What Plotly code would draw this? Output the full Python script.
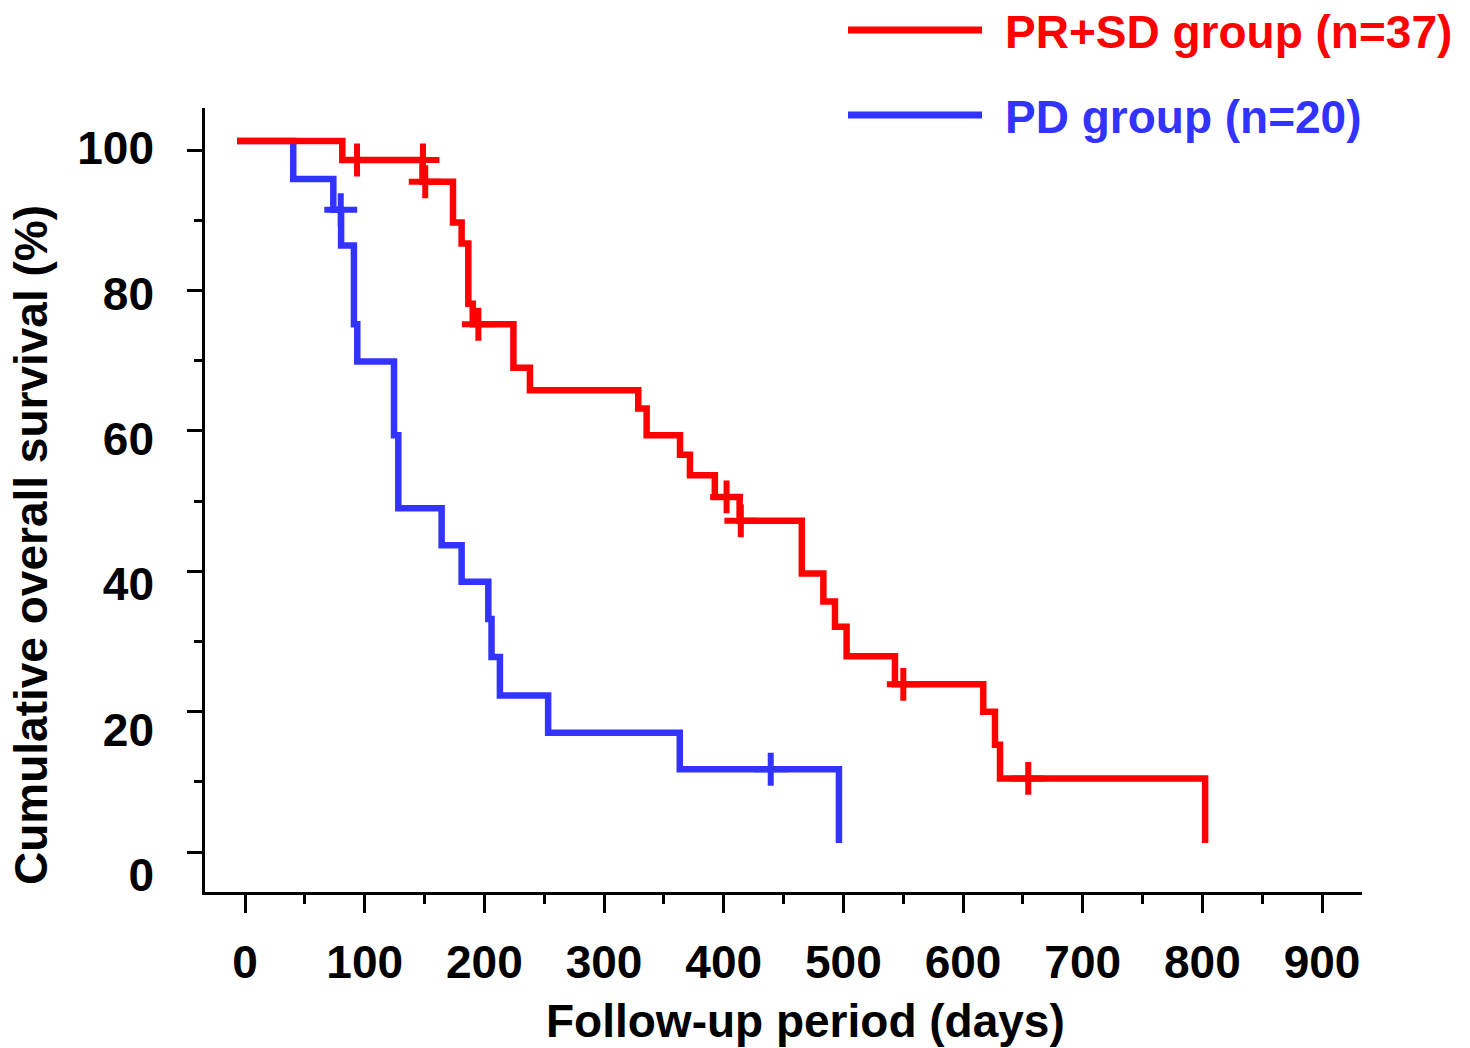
import plotly.graph_objects as go

# ---------------- data ----------------
X_TICKS = [0, 100, 200, 300, 400, 500, 600, 700, 800, 900]
X_TICK_LABELS = [str(v) for v in X_TICKS]
Y_TICKS = [0, 20, 40, 60, 80, 100]
Y_TICK_LABELS = [str(v) for v in Y_TICKS]

PRSD_NAME = "PR+SD group (n=37)"
PRSD_DAYS = [0, 88, 155, 180.5, 187.7, 193.3, 197, 231, 244.8, 335.3, 342.3, 370.2,
             378.5, 399.3, 420, 472, 490, 499.7, 509.4, 549.8, 623.6, 633.4, 637.6, 809]
PRSD_SURV = [100, 97.3, 94.2, 88.4, 85.4, 76.8, 73.9, 67.7, 64.5, 61.9, 58.1, 55.3,
             52.4, 49.3, 45.9, 38.4, 34.4, 30.8, 26.6, 22.6, 18.7, 14.0, 9.2, 0]
PRSD_CENS_DAYS = [100.3, 155.4, 157.3, 201.7, 409.1, 421, 556.8, 661.2]
PRSD_CENS_SURV = [97.3, 97.3, 94.2, 73.9, 49.3, 45.9, 22.6, 9.2]

PD_NAME = "PD group (n=20)"
PD_DAYS = [0, 47, 80.5, 87, 97.7, 100.5, 131.2, 134.8, 171, 187.7, 210, 212.7,
           219.7, 260, 370, 503]
PD_SURV = [100, 94.6, 90.2, 85.1, 73.9, 68.6, 58.1, 47.7, 42.4, 37.2, 31.9, 26.5,
           21.0, 15.7, 10.5, 0]
PD_CENS_DAYS = [86.7, 446]
PD_CENS_SURV = [90.2, 10.5]

RED = "#FF0000"
BLUE = "#3333FF"

# ---------------- layout geometry (page pixels) ----------------
OFF = 8                      # default body margin of the html page
W, H = 1470 - OFF, 1048 - OFF
L, R, T, B = 205, 1362, 108, 892
PW, PH = R - L, B - T
FONT = "Liberation Sans, Arial, sans-serif"


def px(xp):
    return (xp - L) / PW


def py(yp):
    return (B - yp) / PH


X_SCALE = 1.1967            # px per day
X0 = -(237 - L) / X_SCALE
X1 = X0 + PW / X_SCALE
X_TICK_SHIFT = 6.7          # tick layer offset (days)

Y_SCALE = 7.02              # px per percent
Y0 = -(B - 843) / Y_SCALE
Y1 = Y0 + PH / Y_SCALE
Y_TICK_SHIFT = -1.3

Y2_SCALE = 7.27
Y2_0 = -(B - 875) / Y2_SCALE
Y2_1 = Y2_0 + PH / Y2_SCALE

fig = go.Figure()

fig.add_trace(go.Scatter(x=PD_DAYS, y=PD_SURV, mode="lines", name=PD_NAME,
                         line=dict(color=BLUE, width=6.5, shape="hv"),
                         showlegend=False))
fig.add_trace(go.Scatter(x=PD_CENS_DAYS, y=PD_CENS_SURV, mode="markers",
                         marker=dict(symbol="cross-thin", size=23.5,
                                     line=dict(width=6, color=BLUE)),
                         showlegend=False))
fig.add_trace(go.Scatter(x=PRSD_DAYS, y=PRSD_SURV, mode="lines", name=PRSD_NAME,
                         line=dict(color=RED, width=6.5, shape="hv"),
                         showlegend=False))
fig.add_trace(go.Scatter(x=PRSD_CENS_DAYS, y=PRSD_CENS_SURV, mode="markers",
                         marker=dict(symbol="cross-thin", size=23.5,
                                     line=dict(width=6, color=RED)),
                         showlegend=False))
# placeholder so the label axis is rendered
fig.add_trace(go.Scatter(x=[None], y=[None], yaxis="y2", mode="lines",
                         showlegend=False, hoverinfo="skip"))

tickfont = dict(family=FONT, size=46, color="black", weight="bold")

fig.update_layout(
    width=W, height=H,
    margin=dict(l=L - OFF, r=W + OFF - R, t=T - OFF, b=H + OFF - B, pad=0),
    paper_bgcolor="white", plot_bgcolor="white",
    font=dict(family=FONT, size=46, color="black", weight="bold"),
    xaxis=dict(
        range=[X0, X1], showgrid=False, zeroline=False,
        showline=True, linewidth=3, linecolor="black",
        ticks="outside", ticklen=18, tickwidth=3, tickcolor="black",
        tickmode="array",
        tickvals=[v + X_TICK_SHIFT for v in X_TICKS],
        ticktext=X_TICK_LABELS, tickfont=tickfont,
        ticklabelstandoff=10,
        minor=dict(tickmode="array",
                   tickvals=[v + 50 + X_TICK_SHIFT for v in X_TICKS],
                   ticks="outside", ticklen=9, tickwidth=3, tickcolor="black",
                   showgrid=False),
    ),
    yaxis=dict(
        range=[Y0, Y1], showgrid=False, zeroline=False,
        showline=True, linewidth=3, linecolor="black",
        ticks="outside", ticklen=15, tickwidth=3, tickcolor="black",
        tickmode="array",
        tickvals=[v + Y_TICK_SHIFT for v in Y_TICKS],
        showticklabels=False,
        minor=dict(tickmode="array",
                   tickvals=[v + 10 + Y_TICK_SHIFT for v in Y_TICKS[:-1]],
                   ticks="outside", ticklen=8, tickwidth=3, tickcolor="black",
                   showgrid=False),
    ),
    yaxis2=dict(
        overlaying="y", side="left", anchor="x",
        range=[Y2_0, Y2_1], showgrid=False, zeroline=False, showline=False,
        ticks="", tickmode="array", tickvals=Y_TICKS, ticktext=Y_TICK_LABELS,
        tickfont=tickfont, ticklabelstandoff=50,
    ),
    annotations=[
        dict(text="Cumulative overall survival (%)", xref="paper", yref="paper",
             x=px(31), y=py(545), xanchor="center", yanchor="middle",
             textangle=-90, showarrow=False,
             font=dict(family=FONT, size=46, color="black", weight="bold")),
        dict(text="Follow-up period (days)", xref="paper", yref="paper",
             x=px(805), y=py(1021), xanchor="center", yanchor="middle",
             showarrow=False,
             font=dict(family=FONT, size=46, color="black", weight="bold")),
        dict(text=PRSD_NAME, xref="paper", yref="paper",
             x=px(1003), y=py(32), xanchor="left", yanchor="middle",
             showarrow=False,
             font=dict(family=FONT, size=46, color=RED, weight="bold")),
        dict(text=PD_NAME, xref="paper", yref="paper",
             x=px(1003), y=py(117), xanchor="left", yanchor="middle",
             showarrow=False,
             font=dict(family=FONT, size=46, color=BLUE, weight="bold")),
    ],
    shapes=[
        dict(type="line", xref="paper", yref="paper",
             x0=px(848), x1=px(982), y0=py(30), y1=py(30),
             line=dict(color=RED, width=7)),
        dict(type="line", xref="paper", yref="paper",
             x0=px(848), x1=px(982), y0=py(115), y1=py(115),
             line=dict(color=BLUE, width=7)),
    ],
)

fig.write_html("out.html")
